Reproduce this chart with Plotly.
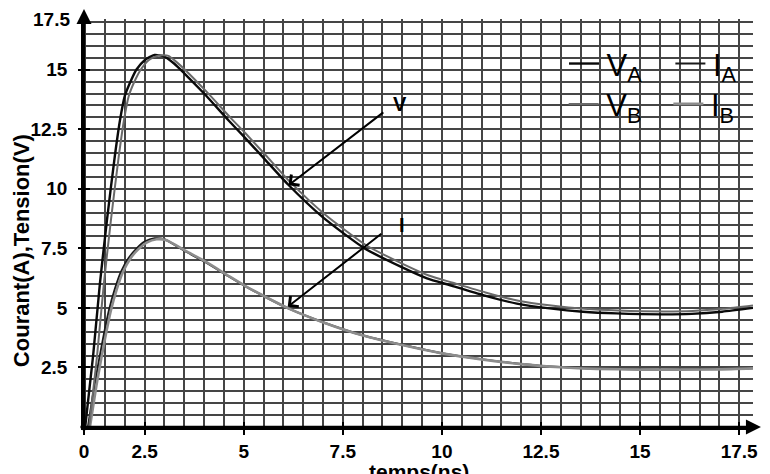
import plotly.graph_objects as go

# ---------------- data ----------------
t_VA = [1.0, 1.2, 1.37, 1.55, 1.75, 1.88, 2.0, 2.17, 2.29, 2.5, 2.75, 3.0, 3.25, 3.5, 4.0,
        4.625, 5.0, 5.5, 6.125, 7.0, 8.05, 9.0, 9.625, 10.21, 11.06, 11.89, 12.72, 13.56,
        14.4, 15.57, 16.3, 17.07, 17.85]
V_A = [0.0, 3.0, 6.0, 8.7, 11.4, 12.9, 13.9, 14.6, 15.0, 15.4, 15.62, 15.55, 15.25, 14.85, 14.0,
       12.86, 12.2, 11.3, 10.17, 8.8, 7.5, 6.7, 6.24, 5.95, 5.53, 5.18, 4.98, 4.84,
       4.77, 4.73, 4.75, 4.84, 5.0]

t_VB = [1.1, 1.3, 1.47, 1.65, 1.85, 1.98, 2.1, 2.27, 2.4, 2.6, 2.85, 3.1, 3.3, 3.55, 4.05,
        4.67, 5.05, 5.55, 6.17, 7.05, 8.1, 9.05, 9.67, 10.25, 11.1, 11.93, 12.76, 13.6,
        14.44, 15.6, 16.33, 17.1, 17.85]
V_B = [0.0, 3.0, 6.0, 8.7, 11.4, 12.9, 13.9, 14.6, 15.0, 15.4, 15.6, 15.58, 15.33, 14.95, 14.1,
       12.98, 12.32, 11.42, 10.29, 8.92, 7.62, 6.82, 6.36, 6.07, 5.65, 5.3, 5.1, 4.96,
       4.89, 4.85, 4.87, 4.96, 5.1]

t_IA = [1.07, 1.25, 1.45, 1.6, 1.75, 1.9, 2.1, 2.3, 2.5, 2.75, 3.0, 3.5, 4.0, 4.625, 5.0,
        5.5, 6.125, 7.0, 8.0, 9.0, 10.0, 11.0, 12.0, 13.0, 13.9, 15.0, 16.0, 17.0, 17.85]
I_A = [0.0, 1.9, 3.7, 4.9, 5.8, 6.5, 7.1, 7.5, 7.78, 7.92, 7.88, 7.4, 6.95, 6.32, 5.95,
       5.5, 4.98, 4.4, 3.85, 3.45, 3.1, 2.85, 2.65, 2.52, 2.45, 2.42, 2.42, 2.43, 2.47]

t_IB = [1.12, 1.3, 1.5, 1.65, 1.8, 1.95, 2.15, 2.35, 2.55, 2.8, 3.05, 3.55, 4.05, 4.65, 5.02,
        5.52, 6.14, 7.01, 8.01, 9.0, 10.0, 11.0, 12.0, 13.0, 13.9, 15.0, 16.0, 17.0, 17.85]
I_B = [0.0, 1.9, 3.7, 4.9, 5.8, 6.5, 7.1, 7.48, 7.74, 7.88, 7.84, 7.38, 6.93, 6.31, 5.94,
       5.49, 4.97, 4.39, 3.84, 3.44, 3.09, 2.84, 2.64, 2.51, 2.44, 2.41, 2.41, 2.42, 2.46]

x_tickvals = [0.97, 2.5, 5, 7.5, 10, 12.5, 15, 17.5]
x_ticktext = ["0", "2.5", "5", "7.5", "10", "12.5", "15", "17.5"]
y_tickvals = [2.5, 5, 7.5, 10, 12.5, 15]
y_ticktext = ["2.5", "5", "7.5", "10", "12.5", "15"]

XR = [0.97, 17.85]
YR = [0.0, 17.13]
FONT = "Liberation Sans, Arial, sans-serif"
GRID = "#454545"
GW = 1.6

fig = go.Figure()
fig.add_trace(go.Scatter(x=t_VA, y=V_A, mode="lines", name="\u200aV<sub>A</sub>",
                         line=dict(color="#0a0a0a", width=2.4, shape="spline", smoothing=0.6),
                         legend="legend"))
fig.add_trace(go.Scatter(x=t_IA, y=I_A, mode="lines", name="\u200aI<sub>A</sub>",
                         line=dict(color="#1a1a1a", width=2, shape="spline", smoothing=0.6),
                         legend="legend2"))
fig.add_trace(go.Scatter(x=t_IB, y=I_B, mode="lines", name="\u200aI<sub>B</sub>",
                         line=dict(color="#8c8c8c", width=2.6, shape="spline", smoothing=0.6),
                         legend="legend4"))
fig.add_trace(go.Scatter(x=t_VB, y=V_B, mode="lines", name="\u200aV<sub>B</sub>",
                         line=dict(color="#6a6a6a", width=2, shape="spline", smoothing=0.6),
                         legend="legend3", xaxis="x2", yaxis="y2"))

axis_common = dict(showline=True, linecolor="black", linewidth=2.5,
                   tickcolor="black", tickwidth=2, zeroline=False,
                   showgrid=True, gridcolor=GRID, gridwidth=GW,
                   tickfont=dict(family=FONT, size=19, color="black", weight="bold"))

fig.update_layout(
    width=770, height=474,
    margin=dict(l=84, r=12, t=19, b=42),
    paper_bgcolor="white", plot_bgcolor="white",
    xaxis=dict(range=XR, tickmode="array", tickvals=x_tickvals, ticktext=x_ticktext,
               ticks="outside", ticklen=5,
               minor=dict(tick0=1.0, dtick=0.5, showgrid=True, gridcolor=GRID, gridwidth=GW,
                          ticks=""),
               **axis_common),
    yaxis=dict(range=YR, tickmode="array", tickvals=y_tickvals, ticktext=y_ticktext,
               ticks="outside", ticklen=3, ticklabelstandoff=7,
               minor=dict(tick0=0, dtick=0.5, showgrid=True, gridcolor=GRID, gridwidth=GW,
                          ticks=""),
               **axis_common),
    xaxis2=dict(range=XR, overlaying="x", anchor="y", side="bottom",
                tickmode="array", tickvals=x_tickvals, showticklabels=False,
                ticks="inside", ticklen=5, tickwidth=2, tickcolor="black",
                showgrid=False, zeroline=False, showline=False),
    yaxis2=dict(range=YR, overlaying="y", anchor="x", side="left",
                tickmode="array", tickvals=y_tickvals, showticklabels=False,
                ticks="inside", ticklen=6, tickwidth=2, tickcolor="black",
                showgrid=False, zeroline=False, showline=False),
    showlegend=True,
)

leg_font = dict(family=FONT, size=31, color="black")
def leg(x, y):
    return dict(x=x, y=y, xanchor="left", yanchor="middle", bgcolor="rgba(0,0,0,0)",
                font=leg_font, borderwidth=0, itemwidth=30)

fig.update_layout(
    legend=leg(0.7175, 0.89),
    legend2=leg(0.8765, 0.89),
    legend3=leg(0.717, 0.791),
    legend4=leg(0.8735, 0.791),
)

def px_x(p):
    return (p - 84) / 674.0

def px_y(p):
    return (432 - p) / 413.0

ann = []
# axis arrows
ann.append(dict(x=px_x(766), y=0, xref="paper", yref="paper", ax=-(766 - 84), ay=0,
                showarrow=True, arrowhead=2, arrowsize=1.2, arrowwidth=2.5, arrowcolor="black",
                text="", standoff=0))
ann.append(dict(x=0, y=px_y(9), xref="paper", yref="paper", ax=0, ay=(432 - 9),
                showarrow=True, arrowhead=2, arrowsize=1.2, arrowwidth=2.5, arrowcolor="black",
                text="", standoff=0))
# top y label
ann.append(dict(x=px_x(72), y=px_y(20), xref="paper", yref="paper", text="17.5",
                showarrow=False, xanchor="right", yanchor="middle",
                font=dict(family=FONT, size=19, color="black", weight="bold")))
# axis titles
ann.append(dict(x=px_x(422), y=px_y(463), xref="paper", yref="paper", text="temps(ns)",
                showarrow=False, xanchor="center", yanchor="top",
                font=dict(family=FONT, size=21, color="black", weight="bold")))
ann.append(dict(x=px_x(20.5), y=px_y(253), xref="paper", yref="paper",
                text="Courant(A),Tension(V)", textangle=-90,
                showarrow=False, xanchor="center", yanchor="middle",
                font=dict(family=FONT, size=22, color="black", weight="bold")))
# pointer arrows
ann.append(dict(x=6.13, y=10.15, xref="x", yref="y", ax=8.56, ay=13.26, axref="x", ayref="y",
                showarrow=True, arrowhead=4, arrowsize=1.3, arrowwidth=2, arrowcolor="black",
                text="", standoff=0))
ann.append(dict(x=6.11, y=5.05, xref="x", yref="y", ax=8.51, ay=8.16, axref="x", ayref="y",
                showarrow=True, arrowhead=4, arrowsize=1.3, arrowwidth=2, arrowcolor="black",
                text="", standoff=0))
ann.append(dict(x=8.94, y=13.55, xref="x", yref="y", text="V", showarrow=False,
                font=dict(family=FONT, size=20, color="black", weight="bold")))
ann.append(dict(x=8.99, y=8.49, xref="x", yref="y", text="I", showarrow=False,
                font=dict(family=FONT, size=20, color="black", weight="bold")))
fig.update_layout(annotations=ann)

fig.write_html("out.html")
